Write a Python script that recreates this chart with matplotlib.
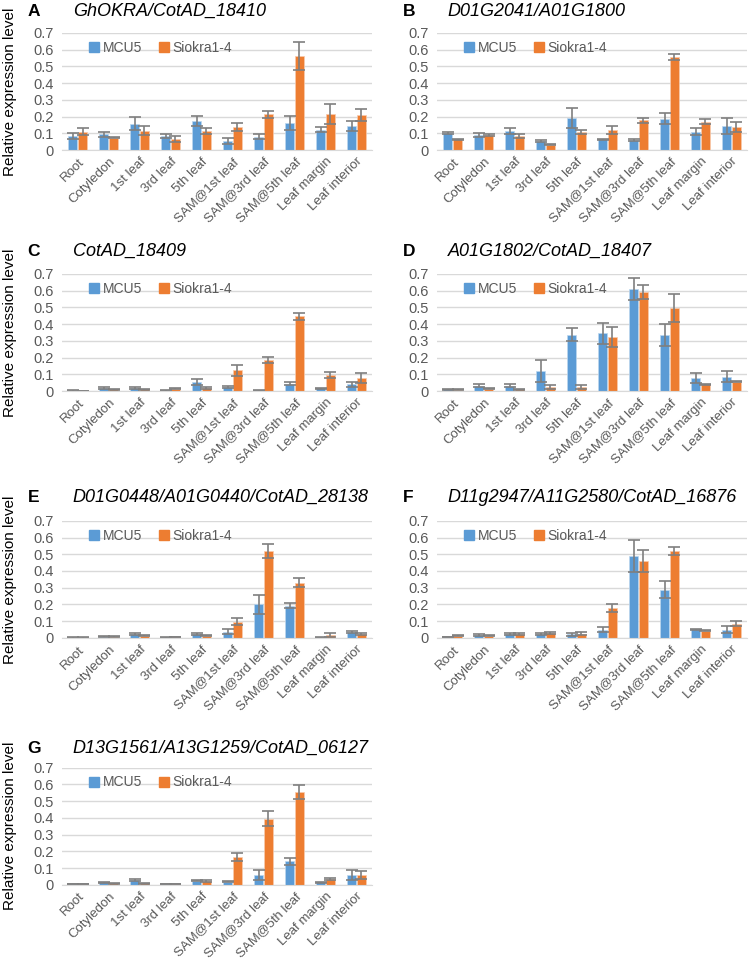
import matplotlib
matplotlib.use("Agg")
import matplotlib.pyplot as plt
from matplotlib.lines import Line2D
import numpy as np

plt.rcParams['font.family'] = ['Liberation Sans', 'DejaVu Sans']

tissues = ["Root", "Cotyledon", "1st leaf", "3rd leaf", "5th leaf",
           "SAM@1st leaf", "SAM@3rd leaf", "SAM@5th leaf", "Leaf margin", "Leaf interior"]

# panel letters and gene names
letters = ["A", "B", "C", "D", "E", "F", "G"]
genes = ["GhOKRA/CotAD_18410", "D01G2041/A01G1800", "CotAD_18409",
         "A01G1802/CotAD_18407", "D01G0448/A01G0440/CotAD_28138",
         "D11g2947/A11G2580/CotAD_16876", "D13G1561/A13G1259/CotAD_06127"]

# MCU5 means / errors
mcu5_a = [0.084, 0.094, 0.158, 0.082, 0.172, 0.054, 0.080, 0.164, 0.122, 0.146]
mcu5_a_err = [0.020, 0.015, 0.038, 0.012, 0.030, 0.016, 0.016, 0.042, 0.014, 0.030]
mcu5_b = [0.102, 0.090, 0.114, 0.056, 0.190, 0.064, 0.060, 0.188, 0.110, 0.144]
mcu5_b_err = [0.008, 0.014, 0.020, 0.006, 0.060, 0.004, 0.004, 0.032, 0.020, 0.050]
mcu5_c = [0.003, 0.018, 0.018, 0.003, 0.055, 0.022, 0.004, 0.044, 0.018, 0.040]
mcu5_c_err = [0.002, 0.004, 0.004, 0.002, 0.016, 0.006, 0.002, 0.008, 0.003, 0.016]
mcu5_d = [0.012, 0.032, 0.032, 0.120, 0.338, 0.345, 0.610, 0.335, 0.079, 0.087]
mcu5_d_err = [0.003, 0.008, 0.010, 0.068, 0.038, 0.064, 0.064, 0.064, 0.030, 0.032]
mcu5_e = [0.002, 0.008, 0.024, 0.003, 0.024, 0.038, 0.200, 0.192, 0.004, 0.036]
mcu5_e_err = [0.001, 0.003, 0.004, 0.001, 0.008, 0.014, 0.058, 0.014, 0.002, 0.006]
mcu5_f = [0.006, 0.018, 0.024, 0.024, 0.022, 0.049, 0.487, 0.288, 0.051, 0.049]
mcu5_f_err = [0.002, 0.006, 0.004, 0.006, 0.008, 0.016, 0.096, 0.052, 0.004, 0.022]
mcu5_g = [0.003, 0.015, 0.028, 0.005, 0.025, 0.018, 0.060, 0.140, 0.015, 0.060]
mcu5_g_err = [0.001, 0.004, 0.008, 0.002, 0.004, 0.004, 0.030, 0.020, 0.003, 0.030]

# Siokra1-4 means / errors
sio_a = [0.110, 0.072, 0.116, 0.068, 0.112, 0.138, 0.214, 0.562, 0.214, 0.210]
sio_a_err = [0.020, 0.003, 0.028, 0.018, 0.018, 0.022, 0.022, 0.082, 0.060, 0.036]
sio_b = [0.064, 0.090, 0.084, 0.032, 0.108, 0.120, 0.178, 0.556, 0.170, 0.138]
sio_b_err = [0.003, 0.006, 0.010, 0.004, 0.010, 0.024, 0.014, 0.016, 0.014, 0.028]
sio_c = [0.002, 0.010, 0.010, 0.014, 0.018, 0.123, 0.186, 0.447, 0.098, 0.078]
sio_c_err = [0.001, 0.003, 0.003, 0.003, 0.008, 0.030, 0.018, 0.020, 0.018, 0.030]
sio_d = [0.008, 0.014, 0.012, 0.024, 0.026, 0.325, 0.590, 0.495, 0.040, 0.055]
sio_d_err = [0.002, 0.003, 0.003, 0.010, 0.012, 0.060, 0.042, 0.084, 0.003, 0.003]
sio_e = [0.002, 0.008, 0.012, 0.006, 0.012, 0.098, 0.520, 0.330, 0.018, 0.026]
sio_e_err = [0.001, 0.003, 0.003, 0.002, 0.003, 0.022, 0.040, 0.028, 0.012, 0.006]
sio_f = [0.012, 0.014, 0.024, 0.028, 0.026, 0.177, 0.460, 0.520, 0.043, 0.085]
sio_f_err = [0.003, 0.003, 0.004, 0.006, 0.008, 0.025, 0.066, 0.022, 0.004, 0.016]
sio_g = [0.003, 0.010, 0.010, 0.005, 0.022, 0.164, 0.395, 0.552, 0.035, 0.060]
sio_g_err = [0.001, 0.003, 0.003, 0.002, 0.004, 0.024, 0.046, 0.042, 0.008, 0.025]

mcu5 = [mcu5_a, mcu5_b, mcu5_c, mcu5_d, mcu5_e, mcu5_f, mcu5_g]
mcu5_err = [mcu5_a_err, mcu5_b_err, mcu5_c_err, mcu5_d_err, mcu5_e_err, mcu5_f_err, mcu5_g_err]
sio = [sio_a, sio_b, sio_c, sio_d, sio_e, sio_f, sio_g]
sio_err = [sio_a_err, sio_b_err, sio_c_err, sio_d_err, sio_e_err, sio_f_err, sio_g_err]

blue = "#5B9BD5"
orange = "#ED7D31"
grey = "#595959"

fig = plt.figure(figsize=(7.5, 9.68), dpi=100)

lefts = [0.083, 0.583]
bottoms = [0.845, 0.596, 0.341, 0.086]
w, h = 0.413, 0.121
letter_x = [0.037, 0.537]
gene_x = [0.097, 0.597]
title_y = [0.988, 0.740, 0.486, 0.227]

x = np.arange(len(tissues))
bw = 0.29
for k in range(7):
    r, c = divmod(k, 2)
    ax = fig.add_axes([lefts[c], bottoms[r], w, h])
    ekw = dict(ecolor="#7F7F7F", elinewidth=1.2, capsize=4, capthick=1.2)
    ax.bar(x - 0.155, mcu5[k], bw, yerr=mcu5_err[k], color=blue,
           edgecolor="#BDD7EE", linewidth=0.5, error_kw=ekw, zorder=2)
    ax.bar(x + 0.155, sio[k], bw, yerr=sio_err[k], color=orange,
           edgecolor="#F8CBAD", linewidth=0.5, error_kw=ekw, zorder=2)
    ax.set_xlim(-0.5, 9.5)
    ax.set_ylim(0, 0.7)
    ax.set_yticks(np.arange(0, 0.71, 0.1))
    ax.set_yticklabels(["0", "0.1", "0.2", "0.3", "0.4", "0.5", "0.6", "0.7"])
    ax.yaxis.grid(True, color="#D9D9D9", linewidth=1, zorder=0)
    ax.set_axisbelow(True)
    for s in ["left", "right", "top"]:
        ax.spines[s].set_visible(False)
    ax.spines["bottom"].set_color("#D9D9D9")
    ax.tick_params(axis="both", length=0, colors=grey)
    ax.tick_params(axis="y", labelsize=10.5, pad=6)
    ax.set_xticks(x)
    ax.set_xticklabels(tissues, rotation=45, ha="right", rotation_mode="anchor",
                       fontsize=9.5, color=grey)
    ax.tick_params(axis="x", pad=4)
    handles = [Line2D([], [], marker="s", linestyle="none", color=blue, markersize=7),
               Line2D([], [], marker="s", linestyle="none", color=orange, markersize=7)]
    leg = ax.legend(handles, ["MCU5", "Siokra1-4"], loc="upper left",
                    bbox_to_anchor=(0.04, 1.04), ncol=2, frameon=False,
                    fontsize=10, handletextpad=0.1, columnspacing=1.1,
                    handlelength=1.0)
    for t in leg.get_texts():
        t.set_color(grey)
    fig.text(letter_x[c], title_y[r], letters[k], fontsize=12.5, fontweight="bold",
             va="center", ha="left")
    fig.text(gene_x[c], title_y[r], genes[k], fontsize=13, style="italic",
             va="center", ha="left")
    if c == 0:
        fig.text(0.014, bottoms[r] + h / 2, "Relative expression level",
                 rotation=90, fontsize=11, va="center", ha="center")

fig.savefig("out.png", dpi=100)
